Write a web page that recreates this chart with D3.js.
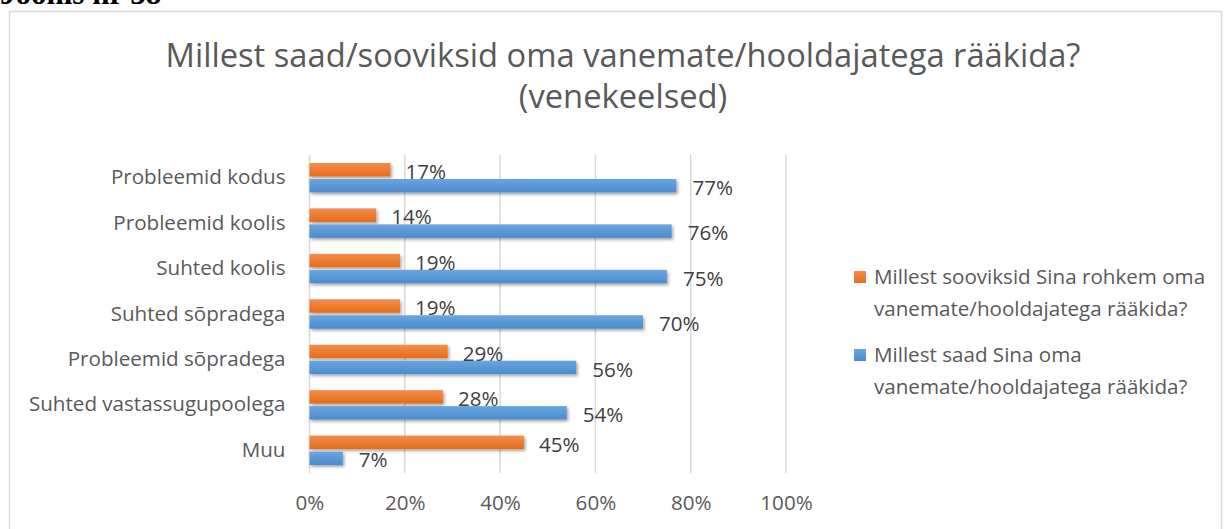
<!DOCTYPE html>
<html>
<head>
<meta charset="utf-8">
<script src="https://cdn.jsdelivr.net/npm/d3@7"></script>
<style>
  html, body { margin: 0; padding: 0; background: #fff; }
  svg { display: block; }
</style>
</head>
<body>
<svg id="chart" width="1224" height="529"></svg>
<script>
// Categories (top to bottom) and series values in percent
const categories = [
  "Probleemid kodus",
  "Probleemid koolis",
  "Suhted koolis",
  "Suhted sõpradega",
  "Probleemid sõpradega",
  "Suhted vastassugupoolega",
  "Muu"
];
const wishValues = [17, 14, 19, 19, 29, 28, 45];   // Millest sooviksid Sina rohkem ...
const canValues  = [77, 76, 75, 70, 56, 54, 7];    // Millest saad Sina ...
const seriesNames = [
  ["Millest sooviksid Sina rohkem oma", "vanemate/hooldajatega rääkida?"],
  ["Millest saad Sina oma", "vanemate/hooldajatega rääkida?"]
];
const xTicks = [0, 20, 40, 60, 80, 100];
const titleLines = ["Millest saad/sooviksid oma vanemate/hooldajatega rääkida?", "(venekeelsed)"];

const svg = d3.select("#chart");
const font = "'Open Sans', 'Noto Sans', sans-serif";
const textColor = "#404040";
const labelSize = 20.6;

// Figure caption above the frame
svg.append("text")
  .attr("x", 0).attr("y", 4)
  .attr("font-family", "'Liberation Serif', 'Times New Roman', serif")
  .attr("font-weight", "bold")
  .attr("font-size", 31)
  .attr("fill", "#000")
  .text("Joonis nr 38");

// Chart frame
svg.append("rect")
  .attr("x", 9.5).attr("y", 11.5)
  .attr("width", 1212).attr("height", 540)
  .attr("fill", "#fff")
  .attr("stroke", "#d9d9d9").attr("stroke-width", 1.5);

// Defs: gradients and shadow
const defs = svg.append("defs");
function grad(id, top, bottom) {
  const g = defs.append("linearGradient").attr("id", id)
    .attr("x1", 0).attr("y1", 0).attr("x2", 0).attr("y2", 1);
  g.append("stop").attr("offset", "0%").attr("stop-color", top);
  g.append("stop").attr("offset", "100%").attr("stop-color", bottom);
}
grad("gOrange", "#f38d4f", "#e66c17");
grad("gBlue", "#6ba5dd", "#4a8bcf");
const f = defs.append("filter").attr("id", "shadow")
  .attr("x", "-5%").attr("y", "-30%").attr("width", "115%").attr("height", "180%");
f.append("feDropShadow").attr("dx", 1.5).attr("dy", 2).attr("stdDeviation", 1.5)
  .attr("flood-color", "#000").attr("flood-opacity", 0.35);

// Title
svg.append("g").selectAll("text").data(titleLines).join("text")
  .attr("x", 623)
  .attr("y", (d, i) => 67 + i * 41)
  .attr("text-anchor", "middle")
  .attr("font-family", font)
  .attr("font-size", 32.7)
  .attr("fill", "#595959")
  .text(d => d);

// Scales
const x = d3.scaleLinear().domain([0, 100]).range([309.5, 786]);
const y = d3.scaleBand().domain(categories).range([155, 473]).paddingInner(0).paddingOuter(0);
const groupPad = 8;     // space above/below each pair of bars
const barGap = 2.5;
const barH = (y.bandwidth() - 2 * groupPad - barGap) / 2;

// Vertical gridlines
svg.append("g").selectAll("line").data(xTicks.slice(1)).join("line")
  .attr("x1", d => x(d)).attr("x2", d => x(d))
  .attr("y1", 155).attr("y2", 473)
  .attr("stroke", "#d9d9d9").attr("stroke-width", 1.5);

// Category axis line
svg.append("line")
  .attr("x1", x(0)).attr("x2", x(0)).attr("y1", 155).attr("y2", 473)
  .attr("stroke", "#d9d9d9").attr("stroke-width", 1.5);

// X axis tick labels
const xAxis = d3.axisBottom(x).tickValues(xTicks).tickFormat(d => d + "%").tickSize(0).tickPadding(0);
const gx = svg.append("g").attr("transform", "translate(0,495)").call(xAxis);
gx.select(".domain").remove();
gx.selectAll("text")
  .attr("font-family", font).attr("font-size", labelSize).attr("fill", "#595959")
  .attr("dy", "0.71em");

// Y axis category labels
const yAxis = d3.axisLeft(y).tickSize(0).tickPadding(24);
const gy = svg.append("g").attr("transform", `translate(${x(0)},0)`).call(yAxis);
gy.select(".domain").remove();
gy.selectAll("text")
  .attr("font-family", font).attr("font-size", labelSize).attr("fill", "#595959");

// Bars
const rows = categories.map((c, i) => ({ c, wish: wishValues[i], can: canValues[i] }));
const barsG = svg.append("g").attr("filter", "url(#shadow)");
barsG.selectAll("rect.wish").data(rows).join("rect")
  .attr("class", "wish")
  .attr("x", x(0))
  .attr("y", d => y(d.c) + groupPad)
  .attr("width", d => x(d.wish) - x(0))
  .attr("height", barH)
  .attr("fill", "url(#gOrange)");
barsG.selectAll("rect.can").data(rows).join("rect")
  .attr("class", "can")
  .attr("x", x(0))
  .attr("y", d => y(d.c) + groupPad + barH + barGap)
  .attr("width", d => x(d.can) - x(0))
  .attr("height", barH)
  .attr("fill", "url(#gBlue)");

// Value labels
const lbl = svg.append("g")
  .attr("font-family", font).attr("font-size", labelSize).attr("fill", textColor);
lbl.selectAll("text.wish").data(rows).join("text")
  .attr("x", d => x(d.wish) + 15)
  .attr("y", d => y(d.c) + groupPad + barH / 2 + 2)
  .attr("dy", "0.35em")
  .text(d => d.wish + "%");
lbl.selectAll("text.can").data(rows).join("text")
  .attr("x", d => x(d.can) + 16)
  .attr("y", d => y(d.c) + groupPad + barH + barGap + barH / 2 + 2)
  .attr("dy", "0.35em")
  .text(d => d.can + "%");

// Legend
const legend = svg.append("g").attr("transform", "translate(854,0)");
const legendTops = [277, 355];
const legendFills = ["url(#gOrange)", "url(#gBlue)"];
seriesNames.forEach((lines, i) => {
  legend.append("rect")
    .attr("x", 0).attr("y", legendTops[i] - 6)
    .attr("width", 12).attr("height", 12)
    .attr("fill", legendFills[i]);
  lines.forEach((t, j) => {
    legend.append("text")
      .attr("x", 20).attr("y", legendTops[i] + j * 31.5)
      .attr("dy", "0.35em")
      .attr("font-family", font).attr("font-size", labelSize).attr("fill", "#595959")
      .text(t);
  });
});
</script>
</body>
</html>
